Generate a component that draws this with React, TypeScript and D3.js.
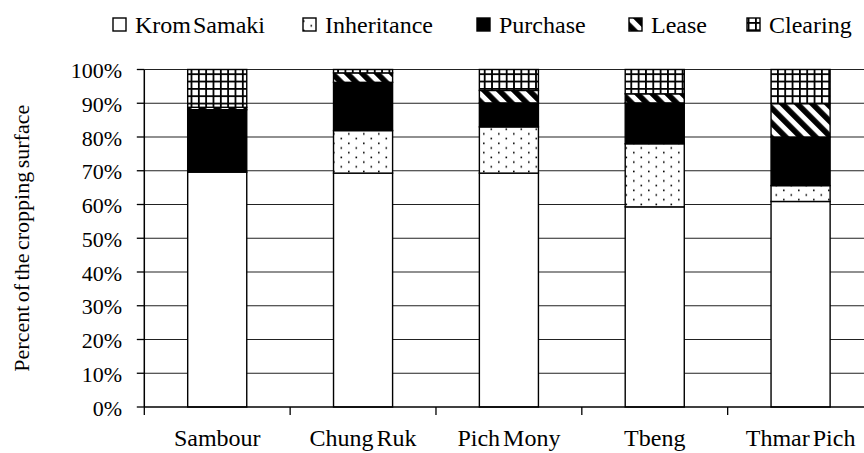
import React from "react";
import * as d3 from "d3";

const categories = ["Sambour", "Chung Ruk", "Pich Mony", "Tbeng", "Thmar Pich"];
const seriesNames = ["Krom Samaki", "Inheritance", "Purchase", "Lease", "Clearing"];
const kromSamaki = [69.6, 69.3, 69.3, 59.3, 60.9];
const inheritance = [0, 12.6, 13.7, 18.7, 4.7];
const purchase = [18.5, 14.3, 7.1, 12.1, 14.4];
const lease = [0.7, 2.8, 3.7, 2.7, 9.9];
const clearing = [11.2, 1.0, 6.2, 7.2, 10.1];
const yTickValues = [0, 10, 20, 30, 40, 50, 60, 70, 80, 90, 100];
const yTickLabels = ["0%", "10%", "20%", "30%", "40%", "50%", "60%", "70%", "80%", "90%", "100%"];
const yAxisTitle = "Percent of the cropping surface";

const W = 864;
const H = 453;
const FONT = "'Liberation Serif', 'Times New Roman', serif";

const fills = ["#ffffff", "url(#pDots)", "#000000", "url(#pStripes)", "url(#pGrid)"];

export default function App() {
  const table = categories.map((c, i) => ({
    cat: c,
    "Krom Samaki": kromSamaki[i],
    Inheritance: inheritance[i],
    Purchase: purchase[i],
    Lease: lease[i],
    Clearing: clearing[i],
  }));
  const stacked = d3.stack<any>().keys(seriesNames)(table);

  const x = d3.scaleBand().domain(categories).range([144.3, 873.5]).padding(0);
  const y = d3.scaleLinear().domain([0, 100]).range([407, 69.5]);
  const step = x.step();
  const barW = step * 0.405;

  const legendX = [113, 303, 477, 629, 747];
  const tStyle = { fontFamily: FONT } as React.CSSProperties;

  return (
    <svg width={W} height={H} style={{ position: "absolute", left: 0, top: 0, background: "#fff" }}>
      <defs>
        <pattern id="pDots" patternUnits="userSpaceOnUse" width={15} height={9.4}>
          <rect width={15} height={9.4} fill="#fff" />
          <rect x={3} y={1.5} width={1.6} height={1.6} fill="#000" />
          <rect x={10.5} y={6.2} width={1.6} height={1.6} fill="#000" />
        </pattern>
        <pattern
          id="pStripes"
          patternUnits="userSpaceOnUse"
          width={10.6}
          height={10.6}
          patternTransform="rotate(-45)"
        >
          <rect width={10.6} height={10.6} fill="#fff" />
          <rect x={0} y={0} width={5.6} height={10.6} fill="#000" />
        </pattern>
        <pattern id="pGrid" patternUnits="userSpaceOnUse" width={7.33} height={7.33}>
          <rect width={7.33} height={7.33} fill="#fff" />
          <rect x={0} y={0} width={1.8} height={7.33} fill="#000" />
          <rect x={0} y={0} width={7.33} height={1.8} fill="#000" />
        </pattern>
      </defs>

      {yTickValues
        .filter((v) => v > 0)
        .map((v) => (
          <line
            key={"g" + v}
            x1={144.3}
            x2={W}
            y1={y(v)}
            y2={y(v)}
            stroke="#222"
            strokeWidth={1.2}
          />
        ))}

      {stacked.map((s, si) =>
        s.map((d, i) => {
          const h = y(d[0]) - y(d[1]);
          if (h <= 0) return null;
          const cx = (x(categories[i]) as number) + step / 2;
          return (
            <rect
              key={si + "-" + i}
              x={cx - barW / 2}
              y={y(d[1])}
              width={barW}
              height={h}
              fill={fills[si]}
              stroke="#000"
              strokeWidth={1.4}
            />
          );
        })
      )}

      <line x1={144.3} x2={144.3} y1={y(100)} y2={y(0)} stroke="#000" strokeWidth={1.5} />
      {yTickValues.map((v, i) => (
        <g key={"yt" + v}>
          <line x1={136.8} x2={144.3} y1={y(v)} y2={y(v)} stroke="#000" strokeWidth={1.3} />
          <text x={122} y={y(v) + 8.5} textAnchor="end" fontSize={22} fill="#000" style={tStyle}>
            {yTickLabels[i]}
          </text>
        </g>
      ))}

      <line x1={144.3} x2={W} y1={y(0)} y2={y(0)} stroke="#000" strokeWidth={1.5} />
      {categories.map((c) => (
        <line
          key={"xt" + c}
          x1={x(c) as number}
          x2={x(c) as number}
          y1={y(0)}
          y2={y(0) + 8}
          stroke="#000"
          strokeWidth={1.3}
        />
      ))}
      {categories.map((c) => (
        <text
          key={"xl" + c}
          x={(x(c) as number) + step / 2}
          y={446}
          textAnchor="middle"
          fontSize={24}
          wordSpacing={-3}
          fill="#000"
          style={tStyle}
        >
          {c}
        </text>
      ))}

      <text
        transform={`translate(29, ${(y(0) + y(100)) / 2}) rotate(-90)`}
        textAnchor="middle"
        fontSize={22}
        wordSpacing={-2}
        fill="#000"
        style={tStyle}
      >
        {yAxisTitle}
      </text>

      {seriesNames.map((n, i) => (
        <g key={"lg" + n}>
          <rect
            x={legendX[i]}
            y={18}
            width={13}
            height={13}
            fill={fills[i]}
            stroke="#000"
            strokeWidth={1.4}
          />
          <text
            x={legendX[i] + 22}
            y={33}
            fontSize={24}
            wordSpacing={-4}
            fill="#000"
            style={tStyle}
          >
            {n}
          </text>
        </g>
      ))}
    </svg>
  );
}
